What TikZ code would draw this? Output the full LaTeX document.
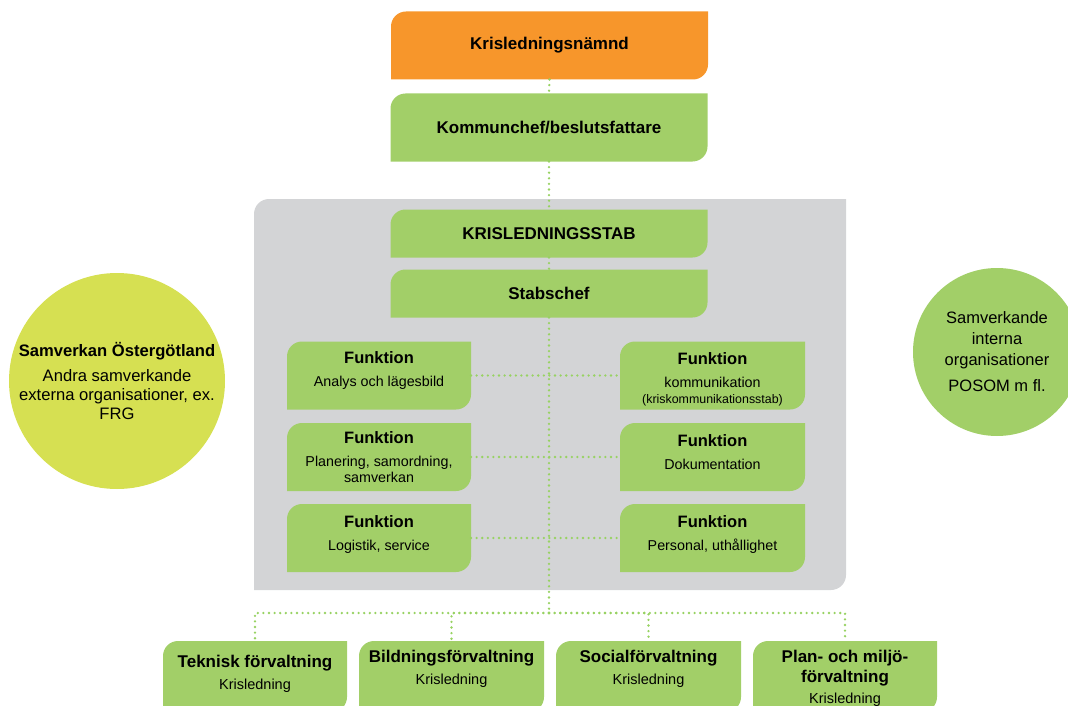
\documentclass[tikz,border=0pt]{standalone}
\usepackage{fontspec}
\setmainfont{Liberation Sans}
\definecolor{korange}{HTML}{F7962B}
\definecolor{kgreen}{HTML}{A2CF68}
\definecolor{kgray}{HTML}{D3D4D6}
\definecolor{kyellow}{HTML}{D6E052}
\definecolor{kdot}{HTML}{97D262}
\newcommand\kTop{\fontsize{17}{20}\selectfont\bfseries}
\newcommand\kFunB{\fontsize{16.5}{18}\selectfont\bfseries}
\newcommand\kFunR{\fontsize{14.3}{16}\selectfont}
\newcommand\kSmallR{\fontsize{12.4}{13}\selectfont}
\newcommand\kBotB{\fontsize{17}{18}\selectfont\bfseries}
\newcommand\kBotR{\fontsize{14.5}{16}\selectfont}
\newcommand\kCircR{\fontsize{16.6}{19}\selectfont}
\newcommand\kCircB{\fontsize{16.6}{19}\selectfont\bfseries}
\newcommand\kCircRR{\fontsize{16.5}{21}\selectfont}
\tikzset{
  cbox/.style={inner sep=0pt, outer sep=0pt,
    path picture={\fill[#1]
      ([yshift=-15pt]path picture bounding box.north west)
        .. controls ([yshift=-6.7pt]path picture bounding box.north west)
        and ([xshift=6.7pt]path picture bounding box.north west)
        .. ([xshift=15pt]path picture bounding box.north west)
      -- (path picture bounding box.north east)
      -- ([yshift=15pt]path picture bounding box.south east)
        .. controls ([yshift=6.7pt]path picture bounding box.south east)
        and ([xshift=-6.7pt]path picture bounding box.south east)
        .. ([xshift=-15pt]path picture bounding box.south east)
      -- (path picture bounding box.south west) -- cycle;}},
  topbox/.style={cbox=kgreen, minimum width=317pt, font=\kTop},
  funbox/.style={cbox=kgreen, minimum width=184pt, minimum height=68pt},
  botbox/.style={cbox=kgreen, minimum width=185pt, minimum height=71pt},
  ftxt/.style={align=center, inner sep=0pt, font=\kFunR},
  btxt/.style={align=center, inner sep=0pt, font=\kBotR},
  dotline/.style={draw=kdot, line width=2.6pt, line cap=round, dash pattern=on 0pt off 5.6pt}
}
\begin{document}
\begin{tikzpicture}[x=1pt,y=-1pt]
\useasboundingbox (0,0) rectangle (1068,706);
\clip (0,0) rectangle (1068,706);

% staff area
\node[cbox=kgray, minimum width=592pt, minimum height=391pt] (stab) at (550,394.5) {};

% top chain
\node[cbox=korange, minimum width=317pt, minimum height=68pt, font=\kTop] (kn) at (549.5,45.5) {Krisledningsnämnd};
\node[topbox, minimum height=68pt] (kc) at (549,127.5) {Kommunchef/beslutsfattare};
\node[topbox, minimum height=48pt] (ks) at (549,233.5) {KRISLEDNINGSSTAB};
\node[topbox, minimum height=48pt] (sc) at (549,293.5) {Stabschef};

% function boxes
\node[funbox] (fl1) at (379,375.5) {};
\node[funbox] (fl2) at (379,457) {};
\node[funbox] (fl3) at (379,538) {};
\node[funbox, minimum width=185pt] (fr1) at (712.5,375.5) {};
\node[funbox, minimum width=185pt] (fr2) at (712.5,457) {};
\node[funbox, minimum width=185pt] (fr3) at (712.5,538) {};

\node[ftxt] (fl1t) at (379,371) {{\kFunB Funktion}\\[7pt]Analys och lägesbild};
\node[ftxt] (fl2t) at (379,457) {{\kFunB Funktion}\\[7pt]Planering, samordning,\\samverkan};
\node[ftxt] (fl3t) at (379,535) {{\kFunB Funktion}\\[7pt]Logistik, service};
\node[ftxt] (fr1t) at (712.5,379) {{\kFunB Funktion}\\[7pt]kommunikation\\{\kSmallR (kriskommunikationsstab)}};
\node[ftxt] (fr2t) at (712.5,452) {{\kFunB Funktion}\\[7pt]Dokumentation};
\node[ftxt] (fr3t) at (712.5,535) {{\kFunB Funktion}\\[7pt]Personal, uthållighet};

% administrations
\node[botbox, minimum width=184pt] (b1) at (255,676.5) {};
\node[botbox] (b2) at (451.5,676.5) {};
\node[botbox] (b3) at (648.5,676.5) {};
\node[botbox, minimum width=184pt] (b4) at (845,676.5) {};

\node[btxt] (b1t) at (255,673.5) {{\kBotB Teknisk förvaltning}\\[6pt]Krisledning};
\node[btxt] (b2t) at (451.5,669) {{\kBotB Bildningsförvaltning}\\[6pt]Krisledning};
\node[btxt] (b3t) at (648.5,669) {{\kBotB Socialförvaltning}\\[6pt]Krisledning};
\node[btxt] (b4t) at (845,678) {{\kBotB Plan- och miljö-}\\[4pt]{\kBotB förvaltning}\\[5pt]Krisledning};

% circles
\node[circle, fill=kyellow, minimum size=216pt, inner sep=0pt, align=center, font=\kCircR] (ext) at (117,381)
  {{\kCircB Samverkan Östergötland}\\[6pt]Andra samverkande\\externa organisationer, ex.\\FRG};
\node[circle, fill=kgreen, minimum size=168pt, inner sep=0pt, align=center, font=\kCircRR] (int) at (997,352)
  {Samverkande\\interna\\organisationer\\[5pt]POSOM m fl.};

% connectors
\coordinate (j) at (549,613);
\draw[dotline] (kn.south) -- (kc.north);
\draw[dotline] (kc.south) -- (ks.north);
\draw[dotline] (ks.south) -- (sc.north);
\draw[dotline] (sc.south) -- (j);
\draw[dotline] (fl1.east) -- (fr1.west);
\draw[dotline] (fl2.east) -- (fr2.west);
\draw[dotline] (fl3.east) -- (fr3.west);
\draw[dotline] (j) -| (b1.north);
\draw[dotline] (j) -| (b2.north);
\draw[dotline] (j) -| (b3.north);
\draw[dotline] (j) -| (b4.north);
\end{tikzpicture}
\end{document}
